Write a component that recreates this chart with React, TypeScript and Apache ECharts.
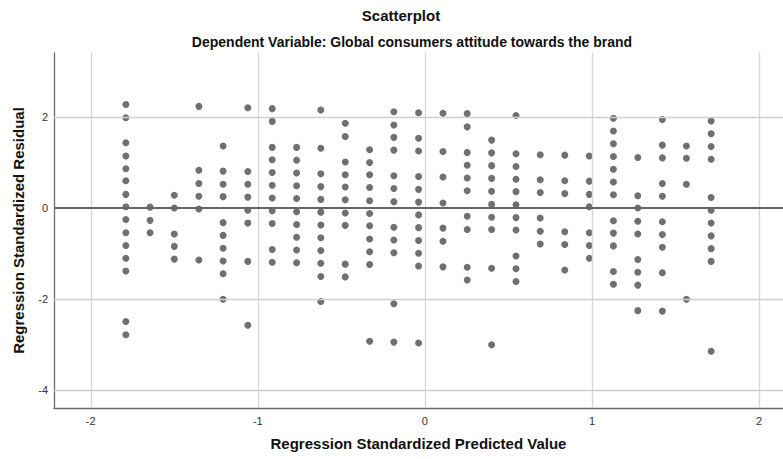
import React, { useEffect, useRef } from "react";
import * as echarts from "echarts";

// Standardized predicted values: one vertical column of cases per value
const predicted = [
  -1.79, -1.645, -1.5, -1.353, -1.208, -1.06, -0.914, -0.768, -0.623, -0.477,
  -0.331, -0.186, -0.038, 0.108, 0.253, 0.399, 0.545, 0.69, 0.837, 0.984,
  1.128, 1.274, 1.421, 1.565, 1.713,
];

// Standardized residuals of the cases in each column, listed top to bottom
const residuals = [
  [2.27, 1.98, 1.43, 1.14, 0.86, 0.6, 0.3, 0.03, -0.25, -0.54, -0.82, -1.1, -1.38, -2.49, -2.78],
  [0.02, -0.27, -0.54],
  [0.28, 0.0, -0.57, -0.84, -1.12],
  [2.23, 0.83, 0.54, 0.26, -0.02, -1.14],
  [1.36, 0.81, 0.52, 0.25, -0.32, -0.6, -0.88, -1.16, -1.44, -2.0],
  [2.2, 0.8, 0.52, 0.24, -0.05, -0.33, -1.17, -2.57],
  [2.18, 1.9, 1.33, 1.06, 0.78, 0.5, 0.22, -0.06, -0.34, -0.91, -1.19],
  [1.33, 1.05, 0.77, 0.49, 0.21, -0.08, -0.36, -0.64, -0.92, -1.2],
  [2.15, 1.31, 0.75, 0.47, 0.19, -0.09, -0.37, -0.65, -0.93, -1.21, -1.5, -2.05],
  [1.86, 1.57, 1.01, 0.73, 0.46, 0.18, -0.11, -0.38, -1.23, -1.51],
  [1.28, 1.0, 0.73, 0.45, 0.16, -0.12, -0.39, -0.68, -0.96, -1.24, -2.92],
  [2.11, 1.82, 1.55, 1.27, 0.71, 0.43, 0.14, -0.42, -0.7, -0.98, -2.1, -2.94],
  [2.09, 1.53, 1.25, 0.69, 0.41, 0.13, -0.15, -0.43, -0.71, -0.99, -1.27, -2.96],
  [2.08, 1.24, 0.68, 0.11, -0.44, -0.73, -1.29],
  [2.07, 1.78, 1.22, 0.94, 0.66, 0.38, -0.18, -0.47, -1.3, -1.58],
  [1.49, 1.21, 0.93, 0.65, 0.37, 0.08, -0.2, -0.47, -1.32, -3.0],
  [2.03, 1.19, 0.91, 0.63, 0.36, 0.07, -0.21, -0.48, -1.05, -1.33, -1.61],
  [1.17, 0.62, 0.34, -0.22, -0.51, -0.79],
  [1.16, 0.6, 0.32, -0.52, -0.8, -1.36],
  [1.14, 0.59, 0.3, 0.03, -0.54, -0.82, -1.1],
  [1.97, 1.69, 1.41, 1.13, 0.85, 0.57, 0.29, -0.28, -0.55, -0.83, -1.39, -1.67],
  [1.11, 0.27, 0.0, -0.29, -0.57, -1.13, -1.41, -1.69, -2.25],
  [1.94, 1.38, 1.1, 0.54, 0.26, -0.3, -0.58, -0.86, -1.42, -2.26],
  [1.36, 1.09, 0.52, -2.0],
  [1.91, 1.63, 1.35, 1.07, 0.23, -0.05, -0.33, -0.61, -0.89, -1.17, -3.14],
];

const xTicks = [-2, -1, 0, 1, 2];
const yTicks = [2, 0, -2, -4];
const yGridValues = [2, -2, -4];
const referenceY = 0;

const titleText = "Scatterplot";
const subtitleText = "Dependent Variable: Global consumers attitude towards the brand";
const xName = "Regression Standardized Predicted Value";
const yName = "Regression Standardized Residual";

const FONT = "'Liberation Sans', Arial, sans-serif";

export default function App() {
  const ref = useRef<HTMLDivElement>(null);

  useEffect(() => {
    if (!ref.current) return;
    const chart = echarts.init(ref.current, undefined, { renderer: "svg" });

    const points: number[][] = [];
    predicted.forEach((x, i) => {
      residuals[i].forEach((y) => points.push([x, y]));
    });

    const gridLines: any[] = [
      ...xTicks.map((v) => ({
        xAxis: v,
        lineStyle: { color: "#d6d6d6", width: 1.3, type: "solid" },
      })),
      ...yGridValues.map((v) => ({
        yAxis: v,
        lineStyle: { color: "#cfcfcf", width: 1.3, type: "solid" },
      })),
    ];

    chart.setOption({
      animation: false,
      backgroundColor: "#ffffff",
      textStyle: { fontFamily: FONT },
      grid: { left: 54, right: 0, top: 53, bottom: 51, containLabel: false },
      xAxis: {
        type: "value",
        min: -2.22,
        max: 2.143,
        name: xName,
        nameLocation: "middle",
        nameGap: 28,
        nameTextStyle: { fontFamily: FONT, fontSize: 15, fontWeight: "bold", color: "#111" },
        axisLine: { show: true, onZero: false, lineStyle: { color: "#6a6a6a", width: 1.3 } },
        axisTick: { show: false },
        splitLine: { show: false },
        axisLabel: {
          customValues: xTicks,
          fontFamily: FONT,
          fontSize: 11,
          color: "#333",
          margin: 7,
        },
      },
      yAxis: {
        type: "value",
        min: -4.385,
        max: 3.4,
        name: yName,
        nameLocation: "middle",
        nameRotate: 90,
        nameGap: 28,
        nameTextStyle: { fontFamily: FONT, fontSize: 15, fontWeight: "bold", color: "#111" },
        axisLine: { show: true, onZero: false, lineStyle: { color: "#6a6a6a", width: 1.3 } },
        axisTick: { show: false },
        splitLine: { show: false },
        axisLabel: {
          customValues: yTicks,
          fontFamily: FONT,
          fontSize: 11,
          color: "#333",
          margin: 6,
        },
      },
      graphic: [
        {
          type: "text",
          x: 401,
          y: 15,
          style: {
            text: titleText,
            font: `bold 15px ${FONT}`,
            fill: "#111",
            textAlign: "center",
            textVerticalAlign: "middle",
          },
        },
        {
          type: "text",
          x: 412,
          y: 42,
          style: {
            text: subtitleText,
            font: `bold 14px ${FONT}`,
            fill: "#111",
            textAlign: "center",
            textVerticalAlign: "middle",
          },
        },
      ],
      series: [
        {
          type: "scatter",
          name: "grid",
          data: [],
          z: 1,
          silent: true,
          markLine: {
            silent: true,
            symbol: "none",
            label: { show: false },
            data: gridLines,
          },
        },
        {
          type: "scatter",
          name: "cases",
          data: points,
          symbol: "circle",
          symbolSize: 7,
          z: 2,
          itemStyle: { color: "#707070", opacity: 1 },
          markLine: {
            silent: true,
            symbol: "none",
            label: { show: false },
            data: [{ yAxis: referenceY, lineStyle: { color: "#666666", width: 2, type: "solid" } }],
          },
        },
      ],
    });

    return () => chart.dispose();
  }, []);

  return (
    <div
      ref={ref}
      style={{ position: "absolute", left: 0, top: 0, width: 783, height: 459 }}
    />
  );
}
